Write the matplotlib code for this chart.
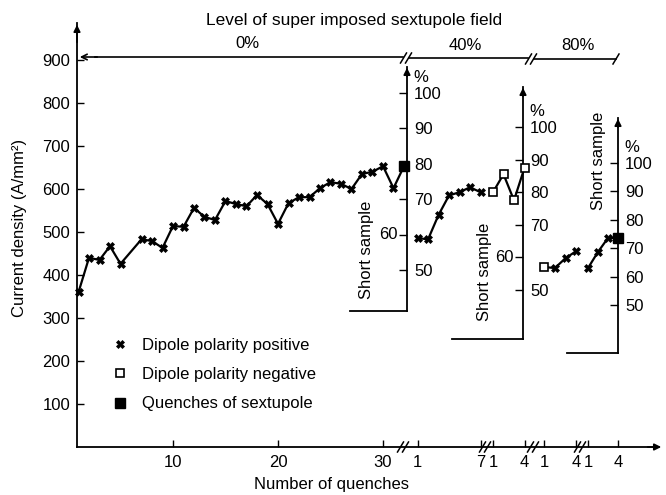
import matplotlib
matplotlib.use('Agg')
import matplotlib.pyplot as plt
from matplotlib.lines import Line2D
from matplotlib.patches import FancyArrowPatch

plt.rcParams['font.family'] = ['Liberation Sans', 'DejaVu Sans']
plt.rcParams['font.size'] = 12

# ---- data ----
# 0 % sextupole field, current density in A/mm2
q_0 = [1, 2, 3, 4, 5, 7, 8, 9, 10, 11, 12, 13, 14, 15, 16, 17, 18, 19, 20,
       21, 22, 23, 24, 25, 26, 27, 28, 29, 30, 31, 32]
j_0 = [360, 440, 435, 467, 426, 483, 479, 463, 514, 512, 556, 535, 528, 572,
       565, 560, 586, 565, 519, 567, 581, 581, 602, 616, 612, 600, 635, 640,
       653, 602, 653]
kind_0 = ['pos'] * 30 + ['sext']

# 40 % field, % of short sample
q_40a = [1, 2, 3, 4, 5, 6, 7]
p_40a = [66, 65.5, 73, 79, 80, 81.5, 80]
kind_40a = ['pos'] * 7
q_40b = [1, 2, 3, 4]
p_40b = [80, 85.5, 77.5, 87.5]
kind_40b = ['neg'] * 4

# 80 % field, % of short sample
q_80a = [1, 2, 3, 4]
p_80a = [63.4, 63, 66.5, 69]
kind_80a = ['neg', 'pos', 'pos', 'pos']
q_80b = [1, 2, 3, 4]
p_80b = [63, 68.7, 73.6, 73.6]
kind_80b = ['pos', 'pos', 'pos', 'sext']

j_ticks = [100, 200, 300, 400, 500, 600, 700, 800, 900]
pct_ticks = [50, 60, 70, 80, 90, 100]
legend_labels = ['Dipole polarity positive', 'Dipole polarity negative',
                 'Quenches of sextupole']

STYLE = {
    'pos': dict(marker='X', ms=5.5, mfc='k', mec='k', mew=0.5),
    'neg': dict(marker='s', ms=6, mfc='white', mec='k', mew=1.2),
    'sext': dict(marker='s', ms=6.5, mfc='k', mec='k'),
}

W, H = 666, 495
fig = plt.figure(figsize=(W / 100, H / 100), dpi=100)


def fx(x):
    return x / W


def fy(y):
    return 1 - y / H


def box(x0, x1, y0, y1):
    return [fx(x0), fy(y1), (x1 - x0) / W, (y1 - y0) / H]


def fig_line(xs, ys, lw=1.2):
    fig.add_artist(Line2D([fx(x) for x in xs], [fy(y) for y in ys],
                          transform=fig.transFigure, color='k', lw=lw))


def slashes(cx, cy, n=2):
    for k in range(n):
        x = cx + (k - (n - 1) / 2) * 5
        fig_line([x - 3, x + 3], [cy + 5, cy - 5], lw=1.1)


def arrow(x0, y0, x1, y1, style='-|>'):
    fig.add_artist(FancyArrowPatch((fx(x0), fy(y0)), (fx(x1), fy(y1)),
                                   transform=fig.transFigure, arrowstyle=style,
                                   mutation_scale=10, color='k', lw=1.2))


def draw_group(ax, q, v, kinds):
    ax.plot(q, v, color='k', lw=1.6, clip_on=False, zorder=2)
    for kind in STYLE:
        qs = [a for a, k in zip(q, kinds) if k == kind]
        vs = [b for b, k in zip(v, kinds) if k == kind]
        if qs:
            ax.plot(qs, vs, ls='none', clip_on=False, zorder=3, **STYLE[kind])


def group_axes(x0, x1, first_px, step, p100_px, slope, ticks):
    ax = fig.add_axes(box(x0, x1, 23, 447))
    ax.set_xlim(1 + (x0 - first_px) / step, 1 + (x1 - first_px) / step)
    ax.set_ylim(100 - (447 - p100_px) / slope, 100 + (p100_px - 23) / slope)
    ax.set_facecolor('none')
    for s in ax.spines.values():
        s.set_visible(False)
    ax.set_yticks([])
    ax.set_xticks(ticks)
    ax.tick_params(axis='x', direction='in', length=5, width=1, pad=6)
    return ax


def pct_axes(x0, x1, ytop, ybot, p100_px, slope, left60, text_x, text_y):
    ax = fig.add_axes(box(x0, x1, ytop, ybot))
    ax.set_facecolor('none')
    ax.set_xlim(0, 1)
    ax.set_ylim(100 - (ybot - p100_px) / slope, 100 + (p100_px - ytop) / slope)
    ax.spines['top'].set_visible(False)
    ax.spines['left'].set_visible(False)
    ax.spines['right'].set_linewidth(1.3)
    ax.spines['bottom'].set_linewidth(1.3)
    ax.set_xticks([])
    ax.yaxis.tick_right()
    ax.set_yticks(pct_ticks)
    ax.set_yticklabels(['' if (t == 60 and left60) else str(t) for t in pct_ticks])
    ax.tick_params(axis='y', direction='in', length=6, width=1, pad=5)
    if left60:
        fig.text(fx(x1 - 9), fy(p100_px + 40 * slope), '60', ha='right', va='center')
    fig.text(fx(x1 + 6), fy(p100_px - 15), '%', ha='left', va='center')
    arrow(x1, ytop + 12, x1, ytop - 2)
    fig.text(fx(text_x), fy(text_y), 'Short sample', rotation=90,
             ha='center', va='center')
    return ax


# main axes, 0 % field
ax = fig.add_axes(box(77, 657, 23, 447))
ax.set_facecolor('none')
ax.set_xlim(1 + (77 - 78.5) / 10.5, 1 + (657 - 78.5) / 10.5)
ax.set_ylim(0, (447 - 23) / 0.43)
ax.spines['top'].set_visible(False)
ax.spines['right'].set_visible(False)
ax.spines['left'].set_linewidth(1.3)
ax.spines['bottom'].set_linewidth(1.3)
ax.set_yticks(j_ticks)
ax.set_xticks([10, 20, 30])
ax.tick_params(direction='in', length=5, width=1)
ax.tick_params(axis='y', pad=5)
ax.tick_params(axis='x', pad=6)
draw_group(ax, q_0, j_0, kind_0)

# short-sample percentage axes
pct_axes(350, 407, 67, 311, 93, 3.54, True, 366, 250)
pct_axes(452, 523, 87, 339, 127, 3.26, True, 484, 272)
pct_axes(567, 618, 118, 353, 163, 2.84, False, 598, 161)

# later groups, each on its own short-sample scale
g = group_axes(410, 486, 417.5, 10.5, 127, 3.26, [1, 7])
draw_group(g, q_40a, p_40a, kind_40a)
g = group_axes(488, 530, 493, 10.5, 127, 3.26, [1, 4])
draw_group(g, q_40b, p_40b, kind_40b)
g = group_axes(538, 582, 544, 10.8, 163, 2.84, [1, 4])
draw_group(g, q_80a, p_80a, kind_80a)
g = group_axes(583, 625, 588, 10.0, 163, 2.84, [1, 4])
draw_group(g, q_80b, p_80b, kind_80b)

# axis arrows and breaks
arrow(77, 45, 77, 22)
arrow(645, 447, 664, 447)
for bx in [403, 485, 533, 580]:
    slashes(bx, 447)

# level bracket on top
arrow(100, 57, 77, 57, style='->')
fig_line([95, 403], [57, 57])
slashes(406, 58)
fig_line([409, 528], [58, 58])
slashes(531, 59)
fig_line([534, 616], [59, 59])
slashes(616, 59, n=1)

fig.text(fx(354), fy(21), 'Level of super imposed sextupole field',
         ha='center', va='center', fontsize=12.5)
fig.text(fx(247), fy(43), '0%', ha='center', va='center')
fig.text(fx(465), fy(45), '40%', ha='center', va='center')
fig.text(fx(578), fy(45), '80%', ha='center', va='center')

fig.text(fx(20), fy(228), 'Current density (A/mm²)', rotation=90,
         ha='center', va='center')
fig.text(fx(332), fy(484), 'Number of quenches', ha='center', va='center')

handles = [Line2D([], [], ls='none', **STYLE[k]) for k in ['pos', 'neg', 'sext']]
fig.legend(handles, legend_labels, loc='upper left',
           bbox_to_anchor=(fx(112), fy(338)), frameon=False, handlelength=1,
           handletextpad=0.8, labelspacing=0.85, borderpad=0, borderaxespad=0)

fig.savefig('out.png', dpi=100)
